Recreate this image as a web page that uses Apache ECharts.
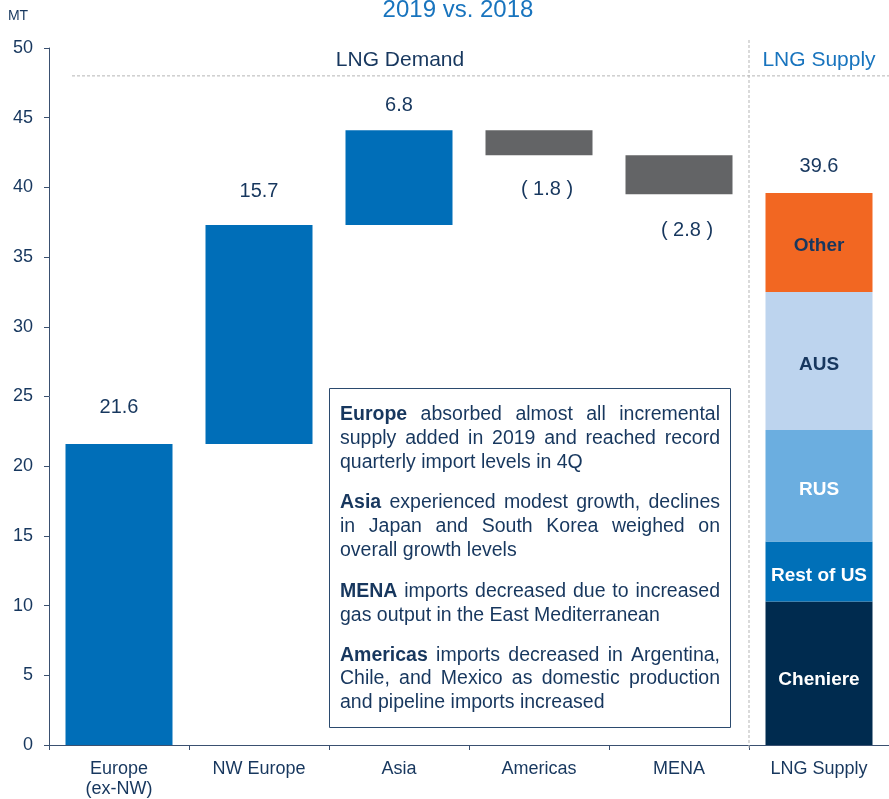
<!DOCTYPE html>
<html>
<head>
<meta charset="utf-8">
<script src="https://cdn.jsdelivr.net/npm/echarts@6/dist/echarts.min.js"></script>
<style>
  html, body { margin: 0; padding: 0; background: #ffffff; }
  #chart { width: 889px; height: 799px; }
</style>
</head>
<body>
<div id="chart"></div>
<script>
// ---- data ----
const categories = ['Europe\n(ex-NW)', 'NW Europe', 'Asia', 'Americas', 'MENA', 'LNG Supply'];
const demandChanges = [21.6, 15.7, 6.8, -1.8, -2.8];
const supplyNames = ['Cheniere', 'Rest of US', 'RUS', 'AUS', 'Other'];
const supplyValues = [10.3, 4.3, 8.0, 9.9, 7.1];
const yMin = 0, yMax = 50, yStep = 5;
const dividerValue = 48;
const titleText = '2019 vs. 2018';
const unitText = 'MT';
const demandHeader = 'LNG Demand';
const supplyHeader = 'LNG Supply';
const notes = [
  { head: 'Europe', lines: ['absorbed almost all incremental', 'supply added in 2019 and reached record', 'quarterly import levels in 4Q'] },
  { head: 'Asia', lines: ['experienced modest growth, declines', 'in Japan and South Korea weighed on', 'overall growth levels'] },
  { head: 'MENA', lines: ['imports decreased due to increased', 'gas output in the East Mediterranean'] },
  { head: 'Americas', lines: ['imports decreased in Argentina,', 'Chile, and Mexico as domestic production', 'and pipeline imports increased'] }
];

// ---- style ----
const FONT = '"Liberation Sans", Arial, sans-serif';
const NAVY = '#17375E';
const BLUE_TXT = '#1874BE';
const UP_COLOR = '#006EB8';
const DOWN_COLOR = '#636466';
const supplyColors = ['#002B4F', '#0070B8', '#6BAEE0', '#BDD4EE', '#F26722'];
const supplyLabelColors = ['#ffffff', '#ffffff', '#ffffff', NAVY, NAVY];
const supplyLabelShift = [7, 4, 4, 4, 3];
const upGap = [26, 24, 15];
const downGap = [0, 0, 0, 24, 26];
const BAR_W = 107;

// ---- build waterfall ----
let cum = 0;
const baseData = [], upData = [], downData = [];
demandChanges.forEach((c, i) => {
  if (c >= 0) {
    baseData.push(cum);
    upData.push({ value: c, label: { distance: upGap[i] } });
    downData.push('-');
  } else {
    baseData.push(cum + c);
    upData.push('-');
    downData.push({ value: -c, label: { distance: downGap[i] } });
  }
  cum += c;
});
baseData.push('-'); upData.push('-'); downData.push('-');
const supplyIdx = categories.length - 1;
const supplyTotal = supplyValues.reduce((a, b) => a + b, 0);

const series = [
  { name: 'base', type: 'bar', stack: 'w', barWidth: BAR_W, silent: true,
    itemStyle: { color: 'rgba(0,0,0,0)' }, data: baseData },
  { name: 'increase', type: 'bar', stack: 'w', barWidth: BAR_W, silent: true,
    itemStyle: { color: UP_COLOR }, data: upData,
    label: { show: true, position: 'top', color: NAVY, fontSize: 20, fontFamily: FONT,
      formatter: p => Number(p.value).toFixed(1) } },
  { name: 'decrease', type: 'bar', stack: 'w', barWidth: BAR_W, silent: true,
    itemStyle: { color: DOWN_COLOR }, data: downData,
    label: { show: true, position: 'bottom', color: NAVY, fontSize: 20, fontFamily: FONT, offset: [8, 0],
      formatter: p => '( ' + Number(p.value).toFixed(1) + ' )' } }
];
supplyNames.forEach((n, i) => {
  series.push({
    name: n, type: 'bar', stack: 'w', barWidth: BAR_W, silent: true,
    itemStyle: { color: supplyColors[i] },
    data: categories.map((_, j) => j === supplyIdx ? supplyValues[i] : '-'),
    label: { show: true, position: 'inside', formatter: n, color: supplyLabelColors[i],
      offset: [0, supplyLabelShift[i]],
      fontWeight: 'bold', fontSize: 19, fontFamily: FONT }
  });
});
series.push({
  name: 'total', type: 'bar', stack: 'w', barWidth: BAR_W, silent: true,
  itemStyle: { color: 'rgba(0,0,0,0)' },
  data: categories.map((_, j) => j === supplyIdx ? 0 : '-'),
  label: { show: true, position: 'top', distance: 16, color: NAVY, fontSize: 20, fontFamily: FONT,
    formatter: () => supplyTotal.toFixed(1) }
});

const AXIS_COLOR = '#3A5070';
const chart = echarts.init(document.getElementById('chart'), null, { renderer: 'canvas' });
chart.setOption({
  animation: false,
  backgroundColor: '#ffffff',
  textStyle: { fontFamily: FONT },
  grid: { left: 49, right: 0, top: 48, bottom: 54, containLabel: false, outerBoundsMode: 'none' },
  xAxis: {
    type: 'category', data: categories,
    axisLine: { show: true, lineStyle: { color: AXIS_COLOR, width: 1 } },
    axisTick: { show: true, alignWithLabel: false, length: 5, lineStyle: { color: AXIS_COLOR } },
    axisLabel: { color: NAVY, fontSize: 18, fontFamily: FONT, margin: 14, lineHeight: 20, interval: 0 },
    splitLine: { show: false }
  },
  yAxis: {
    type: 'value', min: yMin, max: yMax, interval: yStep,
    axisLine: { show: true, lineStyle: { color: AXIS_COLOR, width: 1 } },
    axisTick: { show: true, length: 5, lineStyle: { color: AXIS_COLOR } },
    axisLabel: { color: NAVY, fontSize: 18, fontFamily: FONT, margin: 16 },
    splitLine: { show: false }
  },
  series: series
});

// ---- annotations ----
const yDiv = chart.convertToPixel({ yAxisIndex: 0 }, dividerValue);
const yTop = chart.convertToPixel({ yAxisIndex: 0 }, yMax);
const yZero = chart.convertToPixel({ yAxisIndex: 0 }, yMin);
const xMena = chart.convertToPixel({ xAxisIndex: 0 }, supplyIdx - 1);
const xSup = chart.convertToPixel({ xAxisIndex: 0 }, supplyIdx);
const xFirst = chart.convertToPixel({ xAxisIndex: 0 }, 0);
const xDivider = (xMena + xSup) / 2;
const demandCenter = (xFirst + xMena) / 2;

function txt(x, y, text, size, color, weight, align) {
  return { type: 'text', x: x, y: y, silent: true, z: 100,
    style: { text: text, fill: color, fontSize: size, fontWeight: weight || 'normal', fontFamily: FONT,
      align: align || 'center', verticalAlign: 'middle',
      textAlign: align || 'center', textVerticalAlign: 'middle' } };
}

const graphics = [];
graphics.push(txt(458, 10, titleText, 24, BLUE_TXT));
graphics.push(txt(18, 16, unitText, 14, NAVY));
graphics.push(txt(demandCenter + 1, yDiv - 16, demandHeader, 21, NAVY));
graphics.push(txt(xSup, yDiv - 16, supplyHeader, 21, BLUE_TXT));
graphics.push({ type: 'line', silent: true, z: 50,
  shape: { x1: 72, y1: yDiv, x2: 889, y2: yDiv },
  style: { stroke: '#B5B5B5', lineWidth: 1, lineDash: [3, 2] } });
graphics.push({ type: 'line', silent: true, z: 50,
  shape: { x1: xDivider, y1: yTop - 8, x2: xDivider, y2: yZero + 5 },
  style: { stroke: '#B5B5B5', lineWidth: 1, lineDash: [3, 2] } });

// text box
const box = { x: 329.5, y: 388.5, w: 401, h: 339 };
graphics.push({ type: 'rect', silent: true, z: 60,
  shape: { x: box.x, y: box.y, width: box.w, height: box.h },
  style: { fill: '#ffffff', stroke: '#2B4A6E', lineWidth: 1 } });

const NOTE_SIZE = 19.5;
const textLeft = 340, textRight = 720;
const lineYs = [[415, 439, 463], [503, 527, 551], [592, 616], [656, 679, 703]];
const cv = document.createElement('canvas').getContext('2d');
function measure(t, bold) {
  cv.font = (bold ? 'bold ' : '') + NOTE_SIZE + 'px ' + FONT;
  return cv.measureText(t).width;
}
notes.forEach((p, pi) => {
  p.lines.forEach((line, li) => {
    const words = [];
    if (li === 0) words.push({ t: p.head, b: true });
    line.split(' ').forEach(w => words.push({ t: w, b: false }));
    const widths = words.map(w => measure(w.t, w.b));
    const total = widths.reduce((a, b) => a + b, 0);
    const isLast = li === p.lines.length - 1;
    const gap = (!isLast && words.length > 1) ? (textRight - textLeft - total) / (words.length - 1) : measure(' ', false);
    let x = textLeft;
    words.forEach((w, wi) => {
      graphics.push(Object.assign(txt(x, lineYs[pi][li], w.t, NOTE_SIZE, NAVY, w.b ? 'bold' : 'normal', 'left'), { z: 70 }));
      x += widths[wi] + gap;
    });
  });
});

chart.setOption({ graphic: { elements: graphics } });
</script>
</body>
</html>
